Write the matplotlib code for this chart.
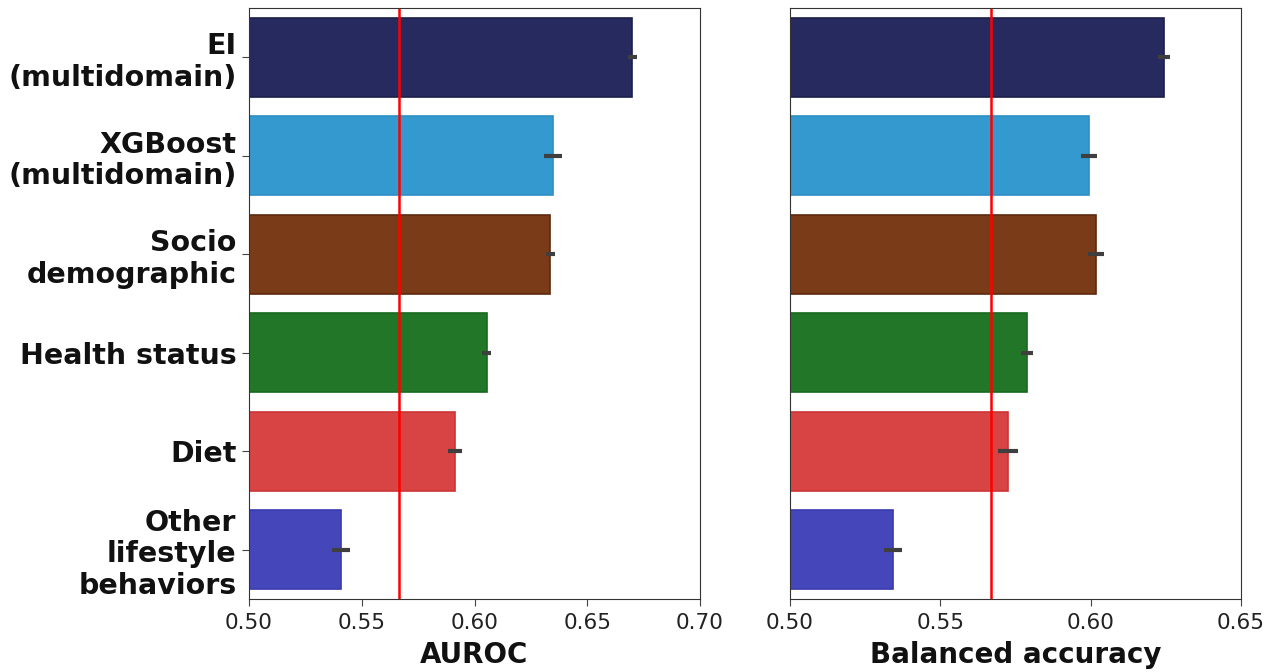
import matplotlib
matplotlib.use("Agg")
import matplotlib.pyplot as plt
import numpy as np

categories = ["EI\n(multidomain)", "XGBoost\n(multidomain)", "Socio\ndemographic",
              "Health status", "Diet", "Other\nlifestyle\nbehaviors"]
auroc = [0.670, 0.6348, 0.6335, 0.6055, 0.5913, 0.5408]
auroc_err = [0.002, 0.004, 0.002, 0.002, 0.003, 0.004]
bacc = [0.6244, 0.5994, 0.6018, 0.5788, 0.5725, 0.5343]
bacc_err = [0.002, 0.0027, 0.0027, 0.002, 0.0033, 0.003]
auroc_ref = 0.5665
bacc_ref = 0.5668
colors = ["#272a5f", "#3399cf", "#7a3b18", "#217727", "#d84343", "#4646bb"]
edges = ["#1c1e4a", "#2f8fc4", "#5e2a0e", "#186a1e", "#cc3535", "#3a3ab0"]

fig = plt.figure(figsize=(12.79, 6.72), dpi=100)
ax1 = fig.add_axes([249/1279, 1-599/672, 451/1279, 591/672])
ax2 = fig.add_axes([790/1279, 1-599/672, 451/1279, 591/672])

y = np.arange(len(categories))
for ax, vals, errs, ref, xlim, ticks, lab in [
    (ax1, auroc, auroc_err, auroc_ref, (0.5, 0.7), [0.50, 0.55, 0.60, 0.65, 0.70], "AUROC"),
    (ax2, bacc, bacc_err, bacc_ref, (0.5, 0.65), [0.50, 0.55, 0.60, 0.65], "Balanced accuracy")]:
    ax.barh(y, np.array(vals) - xlim[0], left=xlim[0], height=0.8, color=colors,
            edgecolor=edges, linewidth=1.2)
    ax.errorbar(vals, y, xerr=errs, fmt="none", ecolor="#3f3f3f", elinewidth=3, capsize=0)
    ax.axvline(ref, color="red", linewidth=1.8)
    ax.set_xlim(*xlim)
    ax.set_ylim(len(categories) - 0.5, -0.5)
    ax.set_xticks(ticks)
    ax.set_xticklabels([f"{t:.2f}" for t in ticks], fontsize=15.5, color="#222222")
    ax.tick_params(axis="x", length=5, pad=5, color="#444444")
    ax.set_xlabel(lab, fontsize=20, fontweight="bold", labelpad=6, color="#111111")
    ax.set_yticks(y)
    for s in ax.spines.values():
        s.set_color("#333333")
ax1.set_yticklabels(categories, fontsize=20.5, fontweight="bold", linespacing=1.15,
                    color="#111111")
ax1.tick_params(axis="y", length=5, pad=4, color="#444444")
ax2.set_yticks([])

fig.savefig("out.png", dpi=100)
